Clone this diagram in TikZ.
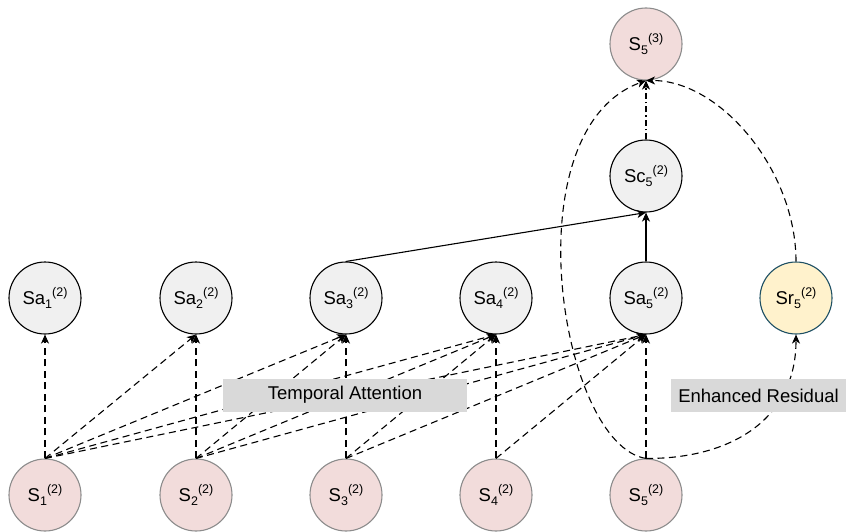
\documentclass[tikz,border=0pt]{standalone}
\usepackage{fontspec}
\setmainfont{Liberation Sans}
\usetikzlibrary{arrows.meta}
\definecolor{sfill}{RGB}{242,220,219}
\definecolor{sline}{RGB}{140,140,140}
\definecolor{afill}{RGB}{240,240,240}
\definecolor{rfill}{RGB}{255,242,204}
\definecolor{rline}{RGB}{30,80,100}
\definecolor{lblfill}{RGB}{217,217,217}
% subscript followed by superscript, side by side
\newcommand\subsup[2]{\raisebox{-0.24em}{\fontsize{12.5}{12.5}\selectfont #1}\raisebox{0.45em}{\fontsize{12.5}{12.5}\selectfont #2}}
\tikzset{
  state/.style={circle, minimum size=72pt, inner sep=0pt, line width=1.1pt,
    font=\fontsize{18.5}{20}\selectfont},
  snode/.style={state, draw=sline, fill=sfill},
  anode/.style={state, draw=black, fill=afill},
  rnode/.style={state, draw=rline, fill=rfill},
  lbl/.style={fill=lblfill, inner sep=0pt, font=\fontsize{18.5}{20}\selectfont},
  tip/.style={-{Stealth[length=9pt,width=8pt,inset=2.5pt]}},
  conn/.style={tip, line width=1.1pt},
  dconn/.style={conn, dash pattern=on 7pt off 4.5pt},
  ddconn/.style={conn, dash pattern=on 6pt off 3pt on 1.5pt off 3pt},
}
\begin{document}
\begin{tikzpicture}[x=1pt, y=-1pt]
\useasboundingbox (0,0) rectangle (846,532);

% input states
\foreach \i/\x in {1/45,2/196,3/346,4/496,5/646}
  \node[snode] (s\i) at (\x,495) {S\subsup{\i}{(2)}};
% attention outputs
\foreach \i/\x in {1/45,2/196,3/346,4/496,5/646}
  \node[anode] (a\i) at (\x,298) {Sa\subsup{\i}{(2)}};

\node[rnode] (r5) at (796,298) {Sr\subsup{5}{(2)}};
\node[anode] (c5) at (646,176) {Sc\subsup{5}{(2)}};
\node[snode] (o5) at (646,44) {S\subsup{5}{(3)}};

% causal temporal attention
\foreach \i in {1,...,5}
  \foreach \j in {\i,...,5}
    \draw[dconn] (s\i.north) -- (a\j.south);

% combination
\draw[conn] (a3.north) -- (c5.south);
\draw[conn] (a5.north) -- (c5.south);
\draw[ddconn] (c5.north) -- (o5.south);

% residual paths
\draw[dconn] (s5.north) .. controls (560,445) and (510,130) .. (o5.south);
\draw[dconn] (s5.north) .. controls (730,459) and (796,420) .. (r5.south);
\draw[dconn] (r5.north) .. controls (796,170) and (720,80) .. (o5.south);

% labels drawn over the connectors
\node[lbl, minimum width=244pt, minimum height=33pt] (ta) at (345,395) {Temporal Attention};
\node[lbl, minimum width=175pt, minimum height=33pt] (er) at (758.5,395.5) {Enhanced Residual};
\end{tikzpicture}
\end{document}
